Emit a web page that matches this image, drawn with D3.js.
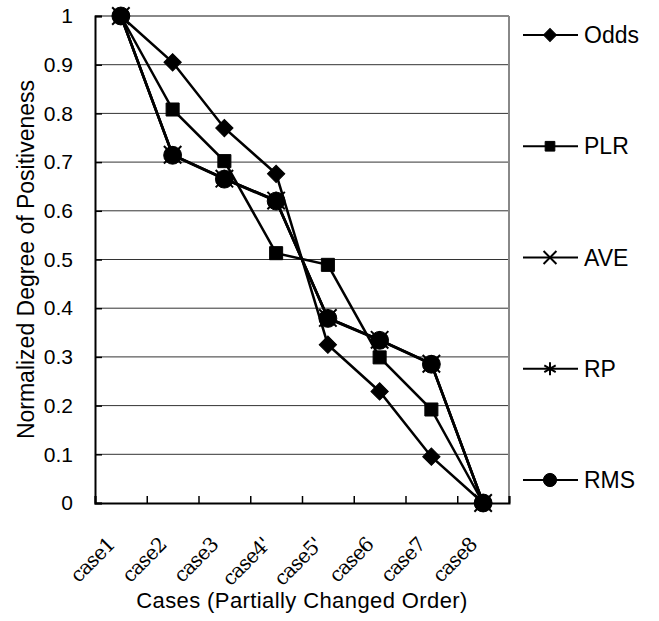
<!DOCTYPE html>
<html>
<head>
<meta charset="utf-8">
<script src="https://cdn.jsdelivr.net/npm/d3@7"></script>
<style>
  body { margin: 0; background: #fff; }
  svg { display: block; font-family: "Liberation Sans", Arial, sans-serif; }
</style>
</head>
<body>
<svg width="659" height="621"></svg>
<script>
const cases = ["case1", "case2", "case3", "case4'", "case5'", "case6", "case7", "case8"];
const yTicks = [0, 0.1, 0.2, 0.3, 0.4, 0.5, 0.6, 0.7, 0.8, 0.9, 1];

const odds = [1, 0.905, 0.77, 0.676, 0.325, 0.229, 0.095, 0];
const plr  = [1, 0.808, 0.702, 0.513, 0.489, 0.299, 0.192, 0];
const ave  = [1, 0.715, 0.666, 0.621, 0.380, 0.335, 0.286, 0];
const rp   = [1, 0.715, 0.666, 0.621, 0.380, 0.335, 0.286, 0];
const rms  = [1, 0.714, 0.665, 0.620, 0.379, 0.334, 0.285, 0];

const seriesNames = ["Odds", "PLR", "AVE", "RP", "RMS"];
const seriesValues = [odds, plr, ave, rp, rms];

const svg = d3.select("svg");
const margin = { top: 16, right: 150, bottom: 118, left: 95 };
const width = 659 - margin.left - margin.right,
      height = 621 - margin.top - margin.bottom;

const chart = svg.append("g").attr("transform", `translate(${margin.left},${margin.top})`);

const x = d3.scaleBand().domain(cases).range([0, width]);
const xEdges = d3.scaleLinear().domain([0, cases.length]).range([0, width]);
const y = d3.scaleLinear().domain([0, 1]).range([height, 0]);

// grid lines
chart.append("g")
  .selectAll("line")
  .data(yTicks.filter(d => d > 0))
  .enter().append("line")
  .attr("x1", 0).attr("x2", width)
  .attr("y1", d => y(d)).attr("y2", d => y(d))
  .attr("stroke", "#333").attr("stroke-width", 1);

// top / right border
chart.append("line")
  .attr("x1", width).attr("x2", width).attr("y1", 0).attr("y2", height)
  .attr("stroke", "#888").attr("stroke-width", 2);
chart.append("line")
  .attr("x1", 0).attr("x2", width).attr("y1", 0).attr("y2", 0)
  .attr("stroke", "#888").attr("stroke-width", 2);

// y axis
const yAxis = chart.append("g")
  .call(d3.axisLeft(y).tickValues(yTicks).tickSize(-7).tickPadding(22)
    .tickFormat(d => d === 0 || d === 1 ? d3.format("d")(d) : d3.format(".1f")(d)));
yAxis.selectAll("text").attr("font-size", 21).attr("fill", "#000")
  .attr("font-family", "'Liberation Sans', Arial, sans-serif");
yAxis.select(".domain").attr("stroke", "#000").attr("stroke-width", 2);
yAxis.selectAll(".tick line").attr("stroke", "#000").attr("stroke-width", 1.5);

// x axis ticks at category edges
const xAxis = chart.append("g").attr("transform", `translate(0,${height})`)
  .call(d3.axisBottom(xEdges).ticks(cases.length).tickSize(-7).tickFormat(""));
xAxis.select(".domain").attr("stroke", "#000").attr("stroke-width", 2);
xAxis.selectAll(".tick line").attr("stroke", "#000").attr("stroke-width", 1.5);

// x labels
const xLabels = chart.append("g")
  .selectAll("g")
  .data(cases)
  .enter().append("g")
  .attr("transform", d => `translate(${x(d) + x.bandwidth() / 2 - 5},${height + 43})`);

xLabels.append("text")
  .attr("x", 0).attr("y", 0)
  .attr("transform", "rotate(-45)")
  .attr("text-anchor", "end")
  .style("font-family", "'DejaVu Serif', 'Liberation Serif', serif")
  .style("font-size", "20px")
  .style("letter-spacing", "-1px")
  .text(d => d);

// axis titles
svg.append("text")
  .attr("x", margin.left + width / 2).attr("y", 608)
  .attr("text-anchor", "middle")
  .attr("font-size", 22)
  .attr("letter-spacing", 0.4)
  .text("Cases (Partially Changed Order)");

svg.append("text")
  .attr("transform", `translate(34,${margin.top + height / 2}) rotate(-90)`)
  .attr("text-anchor", "middle")
  .attr("font-size", 23)
  .text("Normalized Degree of Positiveness");

// markers
const markers = {
  Odds: { type: d3.symbolSquare, size: 150, rotate: 45, fill: true },
  PLR: { type: d3.symbolSquare, size: 170, rotate: 0, fill: true },
  AVE: { type: d3.symbolTimes, size: 200, rotate: 0, fill: false },
  RP: { type: d3.symbolAsterisk, size: 220, rotate: 0, fill: false },
  RMS: { type: d3.symbolCircle, size: 250, rotate: 0, fill: true }
};

const line = d3.line()
  .x((d, i) => x(cases[i]) + x.bandwidth() / 2)
  .y(d => y(d));

const series = chart.selectAll(".series")
  .data(seriesNames.map((name, i) => ({ name, values: seriesValues[i] })))
  .enter().append("g")
  .attr("class", "series");

series.append("path")
  .attr("fill", "none")
  .attr("stroke", "#000")
  .attr("stroke-width", 2.5)
  .attr("d", d => line(d.values));

series.each(function(s) {
  const m = markers[s.name];
  d3.select(this).selectAll("path.mark")
    .data(s.values)
    .enter().append("path")
    .attr("class", "mark")
    .attr("transform", (d, i) => `translate(${x(cases[i]) + x.bandwidth() / 2},${y(d)}) rotate(${m.rotate})`)
    .attr("d", d3.symbol().type(m.type).size(m.size))
    .attr("fill", m.fill ? "#000" : "none")
    .attr("stroke", "#000")
    .attr("stroke-width", m.fill ? 1 : 2);
});

// legend
const legendY = d3.scalePoint().domain(seriesNames).range([35, 480]);
const legend = svg.append("g").selectAll("g")
  .data(seriesNames)
  .enter().append("g")
  .attr("transform", d => `translate(523,${legendY(d)})`);

legend.append("line")
  .attr("x1", 0).attr("x2", 55)
  .attr("stroke", "#000").attr("stroke-width", 2);

legend.append("path")
  .attr("transform", d => `translate(27,0) rotate(${markers[d].rotate})`)
  .attr("d", d => d3.symbol().type(markers[d].type).size(markers[d].size * 0.55)())
  .attr("fill", d => markers[d].fill ? "#000" : "none")
  .attr("stroke", "#000")
  .attr("stroke-width", d => markers[d].fill ? 1 : 2);

legend.append("text")
  .attr("x", 61).attr("y", 8)
  .attr("font-size", 23)
  .text(d => d);
</script>
</body>
</html>
